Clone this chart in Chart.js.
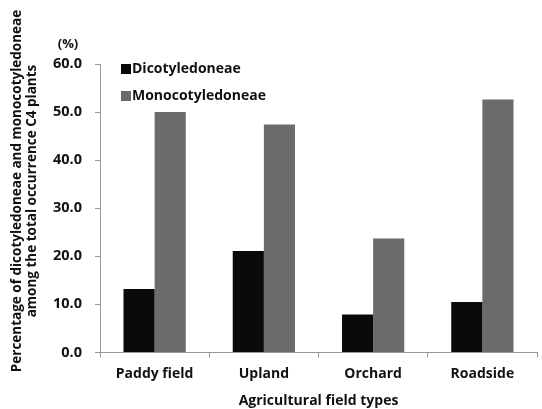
<!DOCTYPE html>
<html>
<head>
<meta charset="utf-8">
<script src="https://cdn.jsdelivr.net/npm/chart.js@4"></script>
<style>
  html, body { margin: 0; padding: 0; background: #fff; }
  #wrap { width: 542px; height: 409px; }
</style>
</head>
<body>
<div id="wrap"><canvas id="c4Chart"></canvas></div>
<script>
var fieldTypes = ["Paddy field", "Upland", "Orchard", "Roadside"];
var dicotValues = [13.2, 21.1, 7.9, 10.5];
var monocotValues = [50.0, 47.4, 23.7, 52.6];
var seriesNames = ["Dicotyledoneae", "Monocotyledoneae"];
var yTitleLines = ["Percentage of dicotyledoneae and monocotyledoneae", "among the total occurrence C4 plants"];

var fontFamily = "'Open Sans', 'Noto Sans', sans-serif";

// legend inside the plot (top-left), the unit label and the two-line y title
var extraText = {
  id: 'extraText',
  afterDraw: function(chart) {
    var ctx = chart.ctx;
    var area = chart.chartArea;
    ctx.save();
    ctx.font = "bold 14px " + fontFamily;
    ctx.textBaseline = 'middle';
    chart.data.datasets.forEach(function(ds, i) {
      var y = area.top + 5 + i * 27;
      ctx.fillStyle = ds.backgroundColor;
      ctx.fillRect(area.left + 21, y - 5, 10, 10);
      ctx.fillStyle = '#111';
      ctx.fillText(ds.label, area.left + 32, y);
    });
    ctx.font = "bold 13px " + fontFamily;
    ctx.textAlign = 'center';
    ctx.fillText("(%)", 68, area.top - 20);

    // y title, rotated
    ctx.translate(25, 191);
    ctx.rotate(-Math.PI / 2);
    ctx.font = "bold 13.5px " + fontFamily;
    ctx.fillText(yTitleLines[0], 0, -7.5);
    ctx.fillText(yTitleLines[1], 0, 7.5);
    ctx.restore();
  }
};

var ctx = document.getElementById("c4Chart");
var chart = new Chart(ctx, {
  type: 'bar',
  data: {
    labels: fieldTypes,
    datasets: [{
      label: seriesNames[0],
      data: dicotValues,
      backgroundColor: '#0a0a0a'
    }, {
      label: seriesNames[1],
      data: monocotValues,
      backgroundColor: '#6b6b6b'
    }]
  },
  options: {
    responsive: true,
    maintainAspectRatio: false,
    animation: false,
    layout: { padding: { top: 64, right: 5, left: 0, bottom: 0 } },
    plugins: {
      legend: { display: false },
      tooltip: { enabled: false }
    },
    datasets: {
      bar: { barPercentage: 1.0, categoryPercentage: 0.57 }
    },
    scales: {
      x: {
        grid: { drawOnChartArea: false, offset: true, tickLength: 5, color: '#999' },
        border: { color: '#999' },
        ticks: { color: '#111', font: { family: fontFamily, size: 14, weight: 'bold' }, padding: 8 },
        title: { display: true, text: "Agricultural field types", color: '#111', font: { family: fontFamily, size: 14, weight: 'bold' }, padding: { top: 2, bottom: 0 } }
      },
      y: {
        min: 0,
        max: 60,
        grid: { drawOnChartArea: false, tickLength: 5, color: '#999' },
        border: { color: '#999' },
        ticks: {
          stepSize: 10,
          color: '#111',
          padding: 13,
          font: { family: fontFamily, size: 14.5, weight: 'bold' },
          callback: function(v) { return v.toFixed(1); }
        },
        afterFit: function(axis) { axis.width = 100; }
      }
    }
  },
  plugins: [extraText]
});
</script>
</body>
</html>
